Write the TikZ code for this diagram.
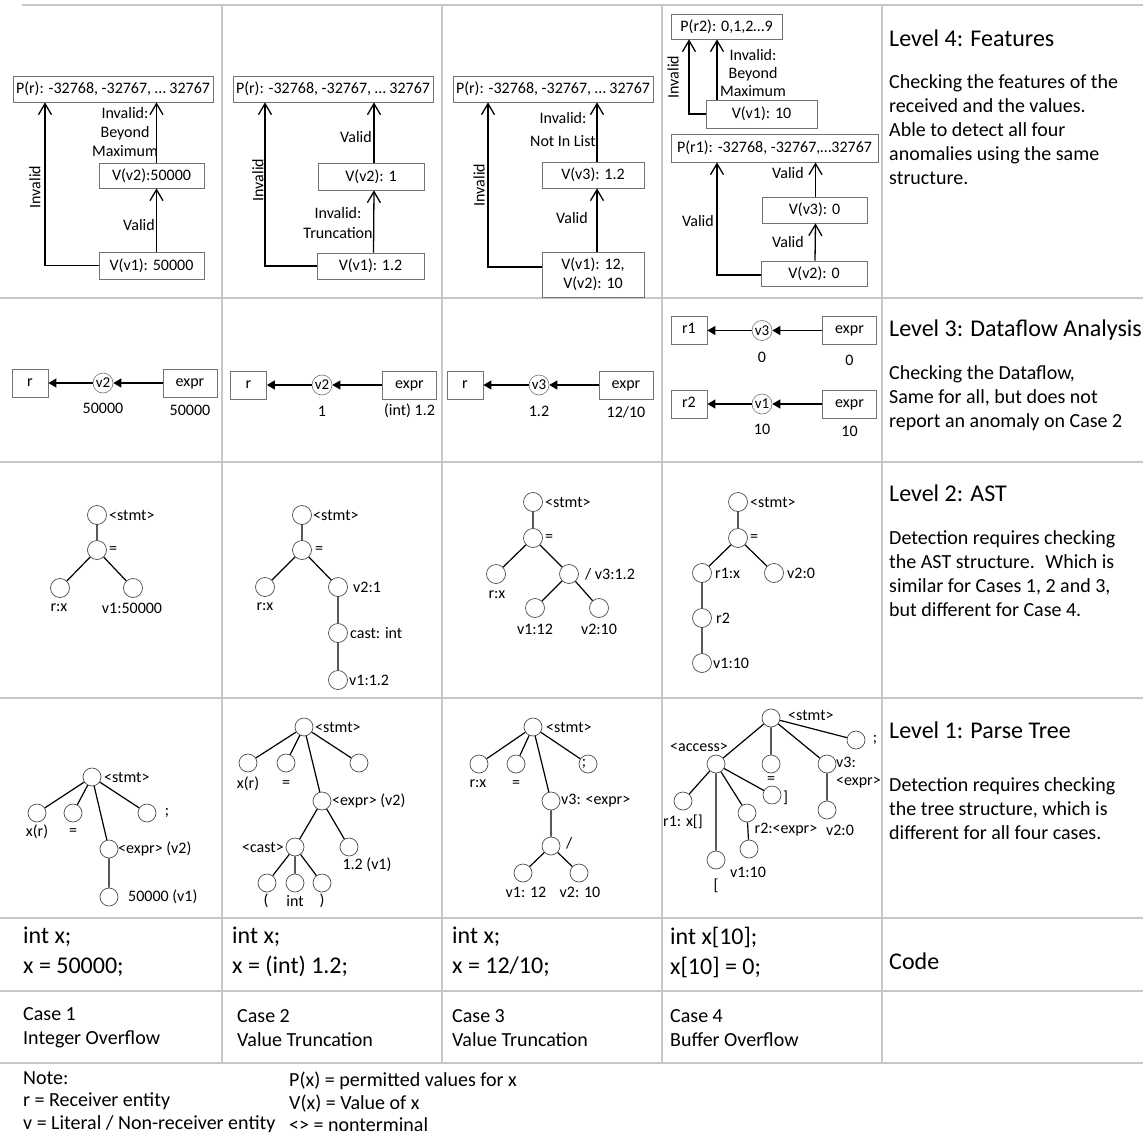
\documentclass[tikz,border=0pt]{standalone}
\usepackage{fontspec}
\setmainfont{Carlito}
\usetikzlibrary{arrows.meta,calc}

\begin{document}
\begin{tikzpicture}[x=1pt,y=-1pt,
  gridline/.style={draw=black!22, line width=1.6pt},
  vbox/.style={draw=black!55, line width=0.8pt, inner sep=0pt, align=center,
    font=\fontsize{16}{19}\selectfont},
  lbl/.style={inner sep=0pt, align=center, font=\fontsize{16}{19}\selectfont},
  lbltwo/.style={lbl, font=\fontsize{16}{20}\selectfont},
  flow/.style={line width=1.3pt, -{Straight Barb[length=11pt,width=13pt,line width=1.3pt]}},
  rbox/.style={draw=black!55, line width=0.8pt, inner sep=0pt, minimum height=28pt,
    text height=9pt, text depth=3pt, font=\fontsize{16}{19}\selectfont},
  vc/.style={circle, draw=black!55, line width=0.6pt, minimum size=20pt, inner sep=0pt,
    font=\fontsize{15}{15}\selectfont},
  dflow/.style={line width=1.2pt, -{Triangle[length=8pt,width=9pt]}},
  ast/.style={circle, draw=black!70, line width=0.7pt, minimum size=19pt, inner sep=0pt},
  pt/.style={circle, draw=black!70, line width=0.7pt, minimum size=18pt, inner sep=0pt},
  tedge/.style={line width=1.2pt},
  head/.style={inner sep=0pt, anchor=west, font=\fontsize{24}{28}\selectfont},
  desc/.style={inner sep=0pt, anchor=west, align=left, font=\fontsize{20}{24}\selectfont},
  code/.style={inner sep=0pt, anchor=west, align=left, font=\fontsize{24}{30}\selectfont},
  cse/.style={inner sep=0pt, anchor=west, align=left, font=\fontsize{20}{24}\selectfont},
  note/.style={inner sep=0pt, anchor=west, align=left, font=\fontsize{20}{22.5}\selectfont}
]
\useasboundingbox (0,0) rectangle (1143,1137);

% ---------- table rules ----------
\draw[gridline] (22,5) -- (1143,5);
\foreach \yy in {298,462,698,918,991,1063}
  \draw[gridline] (0,\yy) -- (1143,\yy);
\foreach \xx in {222,442,662,882}
  \draw[gridline] (\xx,5) -- (\xx,1063);

% ---------- Level 4: features ----------
% case 1
\node[vbox, minimum width=200pt, minimum height=26pt] (p1) at (113,89) {P(r): -32768, -32767, … 32767};
\node[vbox, minimum width=105pt, minimum height=25pt] (a1v2) at (151.5,175.5) {V(v2):50000};
\node[vbox, minimum width=105pt, minimum height=27pt] (a1v1) at (151.5,265.5) {V(v1): 50000};
\draw[flow] ([xshift=5pt]a1v1.north) -- ([xshift=5pt]a1v2.south);
\draw[flow] ([xshift=5pt]a1v2.north) -- ([xshift=5pt]a1v2.north |- p1.south);
\draw[flow] (a1v1.west) -| ([xshift=-68pt]p1.south);
\node[lbl, anchor=east] at (155,225) {Valid};
\node[lbl] at (125,132) {Invalid:\\Beyond\\Maximum};
\node[lbl, rotate=90] at (35,187) {Invalid};

% case 2
\node[vbox, minimum width=200pt, minimum height=26pt] (p2) at (333,89) {P(r): -32768, -32767, … 32767};
\node[vbox, minimum width=106pt, minimum height=27pt] (b2v2) at (371,176.5) {V(v2): 1};
\node[vbox, minimum width=107pt, minimum height=26pt] (b2v1) at (370.5,266) {V(v1): 1.2};
\draw[flow] ([xshift=3pt]b2v1.north) -- ([xshift=3pt]b2v2.south);
\draw[flow] ([xshift=3pt]b2v2.north) -- ([xshift=3pt]b2v2.north |- p2.south);
\draw[flow] (b2v1.west) -| ([xshift=-68pt]p2.south);
\node[lbl, anchor=east] at (372,137) {Valid};
\node[lbltwo] at (338,223) {Invalid:\\Truncation};
\node[lbl, rotate=90] at (258,180) {Invalid};

% case 3
\node[vbox, minimum width=200pt, minimum height=26pt] (p3) at (553,89) {P(r): -32768, -32767, … 32767};
\node[vbox, minimum width=102pt, minimum height=26pt] (c3v3) at (593,175) {V(v3): 1.2};
\node[vbox, minimum width=102pt, minimum height=45pt] (c3v1) at (593,274.5) {V(v1): 12,\\V(v2): 10};
\draw[flow] ([xshift=4pt]c3v1.north) -- ([xshift=4pt]c3v3.south);
\draw[flow] ([xshift=4pt]c3v3.north) -- ([xshift=4pt]c3v3.north |- p3.south);
\draw[flow] ([yshift=7.5pt]c3v1.west) -| ([xshift=-65pt]p3.south);
\node[lbl, anchor=east] at (588,218) {Valid};
\node[lbl, font=\fontsize{16}{23}\selectfont] at (563,130) {Invalid:\\Not In List};
\node[lbl, rotate=90] at (479,185) {Invalid};

% case 4
\node[vbox, minimum width=111pt, minimum height=25pt] (q2) at (726.5,26.5) {P(r2): 0,1,2…9};
\node[vbox, minimum width=111pt, minimum height=28pt] (d4v1) at (761.5,114) {V(v1): 10};
\draw[flow] ([xshift=-44.5pt]d4v1.north) -- ([xshift=-44.5pt]d4v1.north |- q2.south);
\draw[flow] (d4v1.west) -| ([xshift=-37.5pt]q2.south);
\node[lbl, font=\fontsize{16}{18}\selectfont] at (753,73) {Invalid:\\Beyond\\Maximum};
\node[lbl, rotate=90] at (673,77) {Invalid};
\node[vbox, minimum width=207pt, minimum height=28pt] (q1) at (774.5,148) {P(r1): -32768, -32767,…32767};
\node[vbox, minimum width=105pt, minimum height=26pt] (d4v3) at (814.5,210) {V(v3): 0};
\node[vbox, minimum width=106pt, minimum height=25pt] (d4v2) at (814,273.5) {V(v2): 0};
\draw[flow] ([xshift=1pt]d4v2.north) -- ([xshift=1pt]d4v3.south);
\draw[flow] ([xshift=1pt]d4v3.north) -- ([xshift=1pt]d4v3.north |- q1.south);
\draw[flow] ([yshift=-1.5pt]d4v2.west) -| ([xshift=-57.5pt]q1.south);
\node[lbl, anchor=east] at (804,173) {Valid};
\node[lbl, anchor=east] at (804,242) {Valid};
\node[lbl] at (698,221) {Valid};

% ---------- Level 3: dataflow ----------
\node[rbox, minimum width=36pt] (e1r) at (30,383) {r};
\node[vc] (e1v) at (103,383) {v2};
\node[rbox, minimum width=54pt] (e1e) at (190,383) {expr};
\draw[dflow] (e1e) -- (e1v);
\draw[dflow] (e1v) -- (e1r);
\node[lbl] at (103,408) {50000};
\node[lbl] at (190,410) {50000};

\node[rbox, minimum width=36pt] (e2r) at (248.5,385) {r};
\node[vc] (e2v) at (322,385) {v2};
\node[rbox, minimum width=54pt] (e2e) at (409.5,385) {expr};
\draw[dflow] (e2e) -- (e2v);
\draw[dflow] (e2v) -- (e2r);
\node[lbl] at (322,411) {1};
\node[lbl] at (409.5,411) {(int) 1.2};

\node[rbox, minimum width=36pt] (e3r) at (465,385) {r};
\node[vc] (e3v) at (539,385) {v3};
\node[rbox, minimum width=54pt] (e3e) at (626,385) {expr};
\draw[dflow] (e3e) -- (e3v);
\draw[dflow] (e3v) -- (e3r);
\node[lbl] at (539,411) {1.2};
\node[lbl] at (626,412) {12/10};

\node[rbox, minimum width=36pt] (e4r) at (689,330.5) {r1};
\node[vc] (e4v) at (762,330.5) {v3};
\node[rbox, minimum width=54pt] (e4e) at (849.5,330.5) {expr};
\draw[dflow] (e4e) -- (e4v);
\draw[dflow] (e4v) -- (e4r);
\node[lbl] at (762,357) {0};
\node[lbl] at (849.5,360) {0};
\node[rbox, minimum width=36pt] (e5r) at (689,404) {r2};
\node[vc] (e5v) at (762,404) {v1};
\node[rbox, minimum width=54pt] (e5e) at (849.5,404) {expr};
\draw[dflow] (e5e) -- (e5v);
\draw[dflow] (e5v) -- (e5r);
\node[lbl] at (762,429) {10};
\node[lbl] at (849.5,431) {10};

% ---------- Level 2: AST ----------
% case 1
\node[ast] (s1) at (97,515) {};
\node[ast] (s1eq) at (97,550) {};
\node[ast] (s1r) at (60,588) {};
\node[ast] (s1v) at (133,588) {};
\draw[tedge] (s1) -- (s1eq) (s1eq) -- (s1r) (s1eq) -- (s1v);
\node[lbl, anchor=west] at (109,515) {<stmt>};
\node[lbl, anchor=west] at (109,550) {=};
\node[lbl] at (59,608) {r:x};
\node[lbl] at (132,608) {v1:50000};
% case 2
\node[ast] (s2) at (302,515) {};
\node[ast] (s2eq) at (302,550) {};
\node[ast] (s2r) at (265,587) {};
\node[ast] (s2v) at (338,587) {};
\node[ast] (s2c) at (338,633) {};
\node[ast] (s2w) at (338,680) {};
\draw[tedge] (s2) -- (s2eq) (s2eq) -- (s2r) (s2eq) -- (s2v) (s2v) -- (s2c) (s2c) -- (s2w);
\node[lbl, anchor=west] at (313,515) {<stmt>};
\node[lbl, anchor=west] at (315,550) {=};
\node[lbl] at (265,607) {r:x};
\node[lbl, anchor=west] at (353,587) {v2:1};
\node[lbl, anchor=west] at (350,633) {cast: int};
\node[lbl, anchor=west] at (349,680) {v1:1.2};
% case 3
\node[ast] (s3) at (533,502) {};
\node[ast] (s3eq) at (533,538) {};
\node[ast] (s3r) at (496,574) {};
\node[ast] (s3d) at (569,574) {};
\node[ast] (s3a) at (535,608) {};
\node[ast] (s3b) at (599,608) {};
\draw[tedge] (s3) -- (s3eq) (s3eq) -- (s3r) (s3eq) -- (s3d) (s3d) -- (s3a) (s3d) -- (s3b);
\node[lbl, anchor=west] at (545,502) {<stmt>};
\node[lbl, anchor=west] at (545,538) {=};
\node[lbl] at (497,595) {r:x};
\node[lbl, anchor=west] at (585,574) {/ v3:1.2};
\node[lbl] at (535,629) {v1:12};
\node[lbl] at (599,629) {v2:10};
% case 4
\node[ast] (s4) at (738,502) {};
\node[ast] (s4eq) at (738,538) {};
\node[ast] (s4r) at (702,573) {};
\node[ast] (s4v) at (774,573) {};
\node[ast] (s4r2) at (702,618) {};
\node[ast] (s4w) at (702,663) {};
\draw[tedge] (s4) -- (s4eq) (s4eq) -- (s4r) (s4eq) -- (s4v) (s4r) -- (s4r2) (s4r2) -- (s4w);
\node[lbl, anchor=west] at (750,502) {<stmt>};
\node[lbl, anchor=west] at (750,538) {=};
\node[lbl, anchor=west] at (715,573) {r1:x};
\node[lbl, anchor=west] at (787,573) {v2:0};
\node[lbl, anchor=west] at (716,618) {r2};
\node[lbl, anchor=west] at (713,663) {v1:10};

% ---------- Level 1: parse tree ----------
% case 1
\node[pt] (t1) at (92,777) {};
\node[pt] (t1x) at (37,813) {};
\node[pt] (t1eq) at (73,813) {};
\node[pt] (t1sc) at (147,813) {};
\node[pt] (t1e) at (109,849) {};
\node[pt] (t1v) at (109,897) {};
\draw[tedge] (t1) -- (t1x) (t1) -- (t1eq) (t1) -- (t1sc) (t1) -- (t1e) (t1e) -- (t1v);
\node[lbl, anchor=west] at (104,777) {<stmt>};
\node[lbl] at (37,832) {x(r)};
\node[lbl] at (73,832) {=};
\node[lbl] at (167,813) {;};
\node[lbl, anchor=west] at (118,849) {<expr> (v2)};
\node[lbl, anchor=west] at (128,897) {50000 (v1)};
% case 2
\node[pt] (t2) at (304,727) {};
\node[pt] (t2x) at (248,763) {};
\node[pt] (t2eq) at (286,763) {};
\node[pt] (t2sc) at (359,763) {};
\node[pt] (t2e) at (322,801) {};
\node[pt] (t2c) at (295,847) {};
\node[pt] (t2v) at (349,847) {};
\node[pt] (t2l) at (267,883) {};
\node[pt] (t2i) at (295,883) {};
\node[pt] (t2r) at (322,883) {};
\draw[tedge] (t2) -- (t2x) (t2) -- (t2eq) (t2) -- (t2sc) (t2) -- (t2e)
  (t2e) -- (t2c) (t2e) -- (t2v) (t2c) -- (t2l) (t2c) -- (t2i) (t2c) -- (t2r);
\node[lbl, anchor=west] at (315,727) {<stmt>};
\node[lbl] at (248,784) {x(r)};
\node[lbl] at (286,784) {=};
\node[lbl, anchor=west] at (332,801) {<expr> (v2)};
\node[lbl, anchor=east] at (284,847) {<cast>};
\node[lbl] at (367,865) {1.2 (v1)};
\node[lbl] at (266,901) {(};
\node[lbl] at (295,901) {int};
\node[lbl] at (322,901) {)};
% case 3
\node[pt] (t3) at (533,727) {};
\node[pt] (t3x) at (479,764) {};
\node[pt] (t3eq) at (516,764) {};
\node[pt] (t3sc) at (588,764) {};
\node[pt] (t3e) at (551,801) {};
\node[pt] (t3d) at (551,846) {};
\node[pt] (t3a) at (523,873) {};
\node[pt] (t3b) at (579,873) {};
\draw[tedge] (t3) -- (t3x) (t3) -- (t3eq) (t3) -- (t3sc) (t3) -- (t3e)
  (t3e) -- (t3d) (t3d) -- (t3a) (t3d) -- (t3b);
\node[lbl, anchor=west] at (546,727) {<stmt>};
\node[lbl] at (478,784) {r:x};
\node[lbl] at (516,784) {=};
\node[lbl] at (584,764) {;};
\node[lbl, anchor=west] at (561,801) {v3: <expr>};
\node[lbl, anchor=west] at (566,843) {/};
\node[lbl] at (526,892) {v1: 12};
\node[lbl] at (580,892) {v2: 10};
% case 4
\node[pt] (t4) at (771,718) {};
\node[pt] (t4a) at (716,764) {};
\node[pt] (t4eq) at (771,764) {};
\node[pt] (t4v3) at (827,764) {};
\node[pt] (t4sc) at (856,740) {};
\node[pt] (t4v2) at (827,810) {};
\node[pt] (t4r1) at (683,801) {};
\node[pt] (t4lb) at (716,860) {};
\node[pt] (t4r2) at (747,813) {};
\node[pt] (t4rb) at (772,795) {};
\node[pt] (t4v1) at (749,849) {};
\draw[tedge] (t4) -- (t4a) (t4) -- (t4eq) (t4) -- (t4v3) (t4) -- (t4sc) (t4v3) -- (t4v2)
  (t4a) -- (t4r1) (t4a) -- (t4lb) (t4a) -- (t4r2) (t4a) -- (t4rb) (t4r2) -- (t4v1);
\node[lbl, anchor=west] at (788,715) {<stmt>};
\node[lbl] at (699,747) {<access>};
\node[lbl] at (771,780) {=};
\node[lbl, anchor=west] at (836,762) {v3:};
\node[lbl, anchor=west] at (836,783) {<expr>};
\node[lbl] at (875,740) {;};
\node[lbl] at (840,830) {v2:0};
\node[lbl] at (683,822) {r1: x[]};
\node[lbl] at (716,886) {[};
\node[lbl] at (786,830) {r2:<expr>};
\node[lbl, anchor=west] at (783,798) {]};
\node[lbl] at (748,872) {v1:10};

% ---------- right-hand column ----------
\node[head] at (889,38) {Level 4: Features};
\node[desc] at (889,130) {Checking the features of the\\received and the values.\\Able to detect all four\\anomalies using the same\\structure.};
\node[head] at (889,330) {Level 3: Dataflow Analysis};
\node[desc] at (889,398) {Checking the Dataflow,\\Same for all, but does not\\report an anomaly on Case 2};
\node[head] at (889,493) {Level 2: AST};
\node[desc] at (889,574) {Detection requires checking\\the AST structure.~ Which is\\similar for Cases 1, 2 and 3,\\but different for Case 4.};
\node[head] at (889,730) {Level 1: Parse Tree};
\node[desc] at (889,809) {Detection requires checking\\the tree structure, which is\\different for all four cases.};
\node[head] at (889,961) {Code};

% ---------- code row ----------
\node[code] at (23,952) {int x;\\x = 50000;};
\node[code] at (232,952) {int x;\\x = (int) 1.2;};
\node[code] at (452,952) {int x;\\x = 12/10;};
\node[code] at (670,952) {int x[10];\\x[10] = 0;};

% ---------- case row ----------
\node[cse] at (23,1028) {Case 1\\Integer Overflow};
\node[cse] at (237,1028) {Case 2\\Value Truncation};
\node[cse] at (452,1028) {Case 3\\Value Truncation};
\node[cse] at (670,1028) {Case 4\\Buffer Overflow};

% ---------- legend ----------
\node[note] at (23,1102) {Note:\\r = Receiver entity\\v = Literal / Non-receiver entity};
\node[note] at (289,1102) {P(x) = permitted values for x\\V(x) = Value of x\\<> = nonterminal};
\end{tikzpicture}
\end{document}
